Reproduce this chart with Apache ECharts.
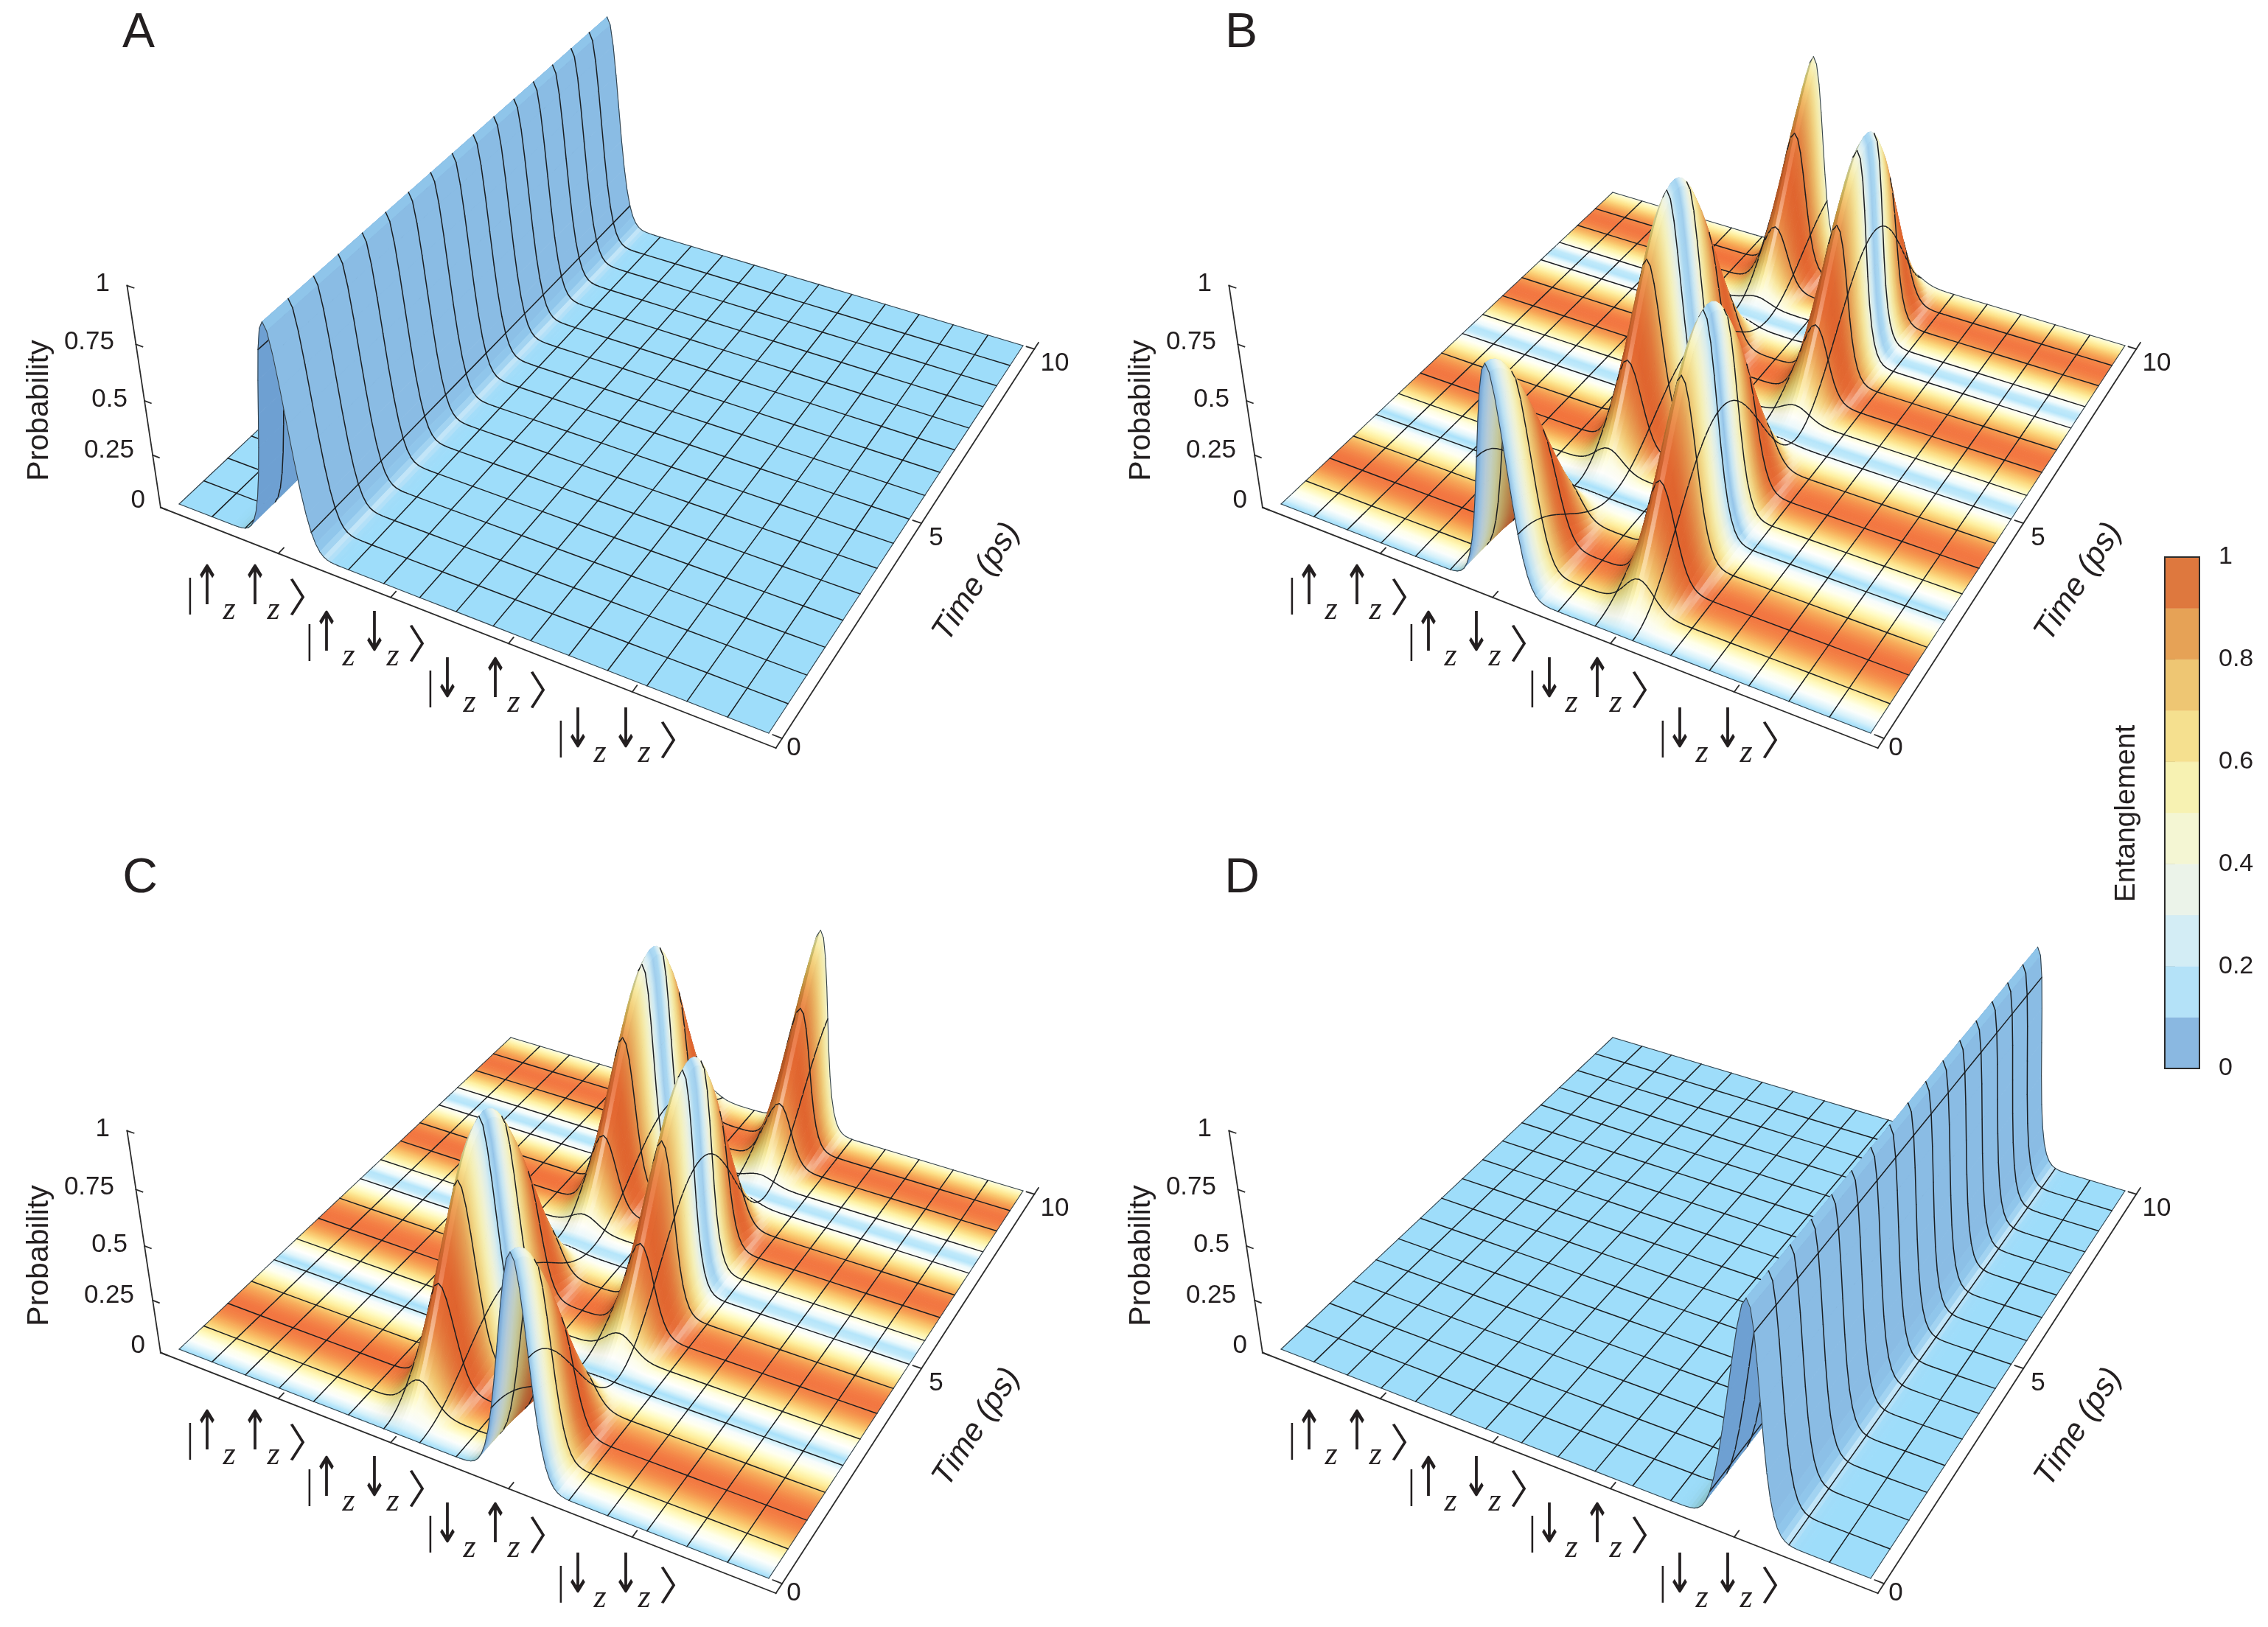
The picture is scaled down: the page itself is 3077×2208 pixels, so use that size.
<!DOCTYPE html>
<html><head><meta charset="utf-8">
<style>html,body{margin:0;padding:0;background:#fff}#c{width:3077px;height:2208px}</style>
<script src="https://cdn.jsdelivr.net/npm/echarts@6/dist/echarts.min.js"></script>
</head><body><div id="c"></div>
<script>
// ---------- DATA ----------
const stateLabels = [['↑','↑'],['↑','↓'],['↓','↑'],['↓','↓']];
const zTicks = [0,0.25,0.5,0.75,1];
const zTickLabels = ['0','0.25','0.5','0.75','1'];
const timeTicks = [0,5,10];
const timeTickLabels = ['0','5','10'];
const stateTicks = [1,2,3,4];

const meshTimes = [0,0.625,1.25,1.875,2.5,3.125,3.75,4.375,5,5.625,6.25,6.875,7.5,8.125,8.75,9.375,10];
const probA_uu  = [1,1,1,1,1,1,1,1,1,1,1,1,1,1,1,1,1];
const entA      = [0,0,0,0,0,0,0,0,0,0,0,0,0,0,0,0,0];
const probD_dd  = [1,1,1,1,1,1,1,1,1,1,1,1,1,1,1,1,1];
const entD      = [0,0,0,0,0,0,0,0,0,0,0,0,0,0,0,0,0];

const fineTimes = [0,0.125,0.25,0.375,0.5,0.625,0.75,0.875,1,1.125,1.25,1.375,1.5,1.625,1.75,1.875,2,2.125,2.25,2.375,2.5,2.625,2.75,2.875,3,3.125,3.25,3.375,3.5,3.625,3.75,3.875,4,4.125,4.25,4.375,4.5,4.625,4.75,4.875,5,5.125,5.25,5.375,5.5,5.625,5.75,5.875,6,6.125,6.25,6.375,6.5,6.625,6.75,6.875,7,7.125,7.25,7.375,7.5,7.625,7.75,7.875,8,8.125,8.25,8.375,8.5,8.625,8.75,8.875,9,9.125,9.25,9.375,9.5,9.625,9.75,9.875,10];
const probB_ud = [1,.994,.977,.95,.912,.864,.809,.746,.677,.605,.53,.455,.38,.309,.241,.18,.126,.08,.044,.018,.004,0,.008,.027,.057,.097,.146,.204,.268,.337,.41,.485,.56,.634,.705,.771,.832,.884,.928,.962,.985,.998,.999,.989,.968,.936,.894,.843,.784,.719,.649,.575,.5,.425,.351,.281,.216,.157,.107,.065,.033,.011,.001,.002,.015,.038,.072,.116,.168,.229,.295,.366,.44,.515,.59,.663,.732,.796,.854,.903,.943];
const probB_du = [0,.006,.023,.05,.088,.136,.191,.254,.323,.395,.47,.545,.62,.691,.759,.82,.874,.92,.956,.982,.996,1,.992,.973,.943,.903,.854,.796,.732,.663,.59,.515,.44,.366,.295,.229,.168,.116,.072,.038,.015,.002,.001,.011,.032,.064,.106,.157,.216,.281,.351,.425,.5,.575,.649,.719,.784,.843,.893,.935,.967,.989,.999,.998,.985,.962,.928,.884,.832,.771,.705,.634,.56,.485,.41,.337,.268,.204,.146,.097,.057];
const entB = [0,.15,.3,.44,.57,.69,.79,.87,.94,.98,1,1,.97,.92,.86,.77,.66,.54,.41,.27,.12,.03,.18,.33,.46,.59,.71,.81,.89,.95,.98,1,.99,.96,.91,.84,.75,.64,.52,.38,.24,.09,.06,.21,.35,.49,.62,.73,.82,.9,.95,.99,1,.99,.95,.9,.82,.73,.62,.49,.35,.21,.06,.09,.24,.38,.52,.64,.75,.84,.91,.96,.99,1,.98,.95,.89,.81,.71,.59,.46];
const probC_du = probB_ud, probC_ud = probB_du, entC = entB;

// cross-section of one ridge: offset from the state position, in steps of 1/32
const ridgeShape = [.0002,.0005,.0013,.0032,.0076,.0165,.0337,.0641,.1142,.1898,.295,.4284,.5813,.737,.8732,.9667,1,.9667,.8732,.737,.5813,.4284,.295,.1898,.1142,.0641,.0337,.0165,.0076,.0032,.0013,.0005,.0002];

const entBarColors = ['#8ab8e1','#b4e2f8','#d3edf5','#ebf3e9','#f4f6d3','#f7f2b2','#f5e08f','#eec673','#e6a256','#de783e'];
const entBarEdges  = [0,.1,.2,.3,.4,.5,.6,.7,.8,.9,1];

// ---------- colours of the lit surface ----------
const floorStops = [[156,220,250],[198,236,250],[240,250,252],[255,255,252],[255,255,232],[255,250,190],[254,236,150],[250,205,110],[246,160,80],[242,115,60]];
const faceStops  = [[138,188,228],[178,222,245],[208,234,243],[232,240,230],[242,243,208],[245,238,175],[243,220,140],[236,192,108],[228,150,78],[224,100,46]];
function stopColor(S,E){
  const p=Math.min(.9999,Math.max(0,E))*9,i=Math.floor(p),f=p-i,a=S[i],b=S[i+1];
  return [a[0]+(b[0]-a[0])*f,a[1]+(b[1]-a[1])*f,a[2]+(b[2]-a[2])*f];
}
function shade(E,g,under){
  const fl=stopColor(floorStops,E),fa=stopColor(faceStops,E);
  let r,gg,b;
  if(under){r=fa[0]*.8;gg=fa[1]*.85;b=fa[2]*.92;}
  else{
    const q=g/(1+Math.abs(g));
    if(q<=0){const f=Math.min(1,-q/.7);
      r=fl[0]+(fa[0]-fl[0])*f;gg=fl[1]+(fa[1]-fl[1])*f;b=fl[2]+(fa[2]-fl[2])*f;
      const w=.42*Math.exp(-Math.pow((-q-.22)/.13,2));
      r+=(255-r)*w;gg+=(255-gg)*w;b+=(255-b)*w;
    }else{const f=q;
      r=fl[0]*(1-.42*f);gg=fl[1]*(1-.42*f);b=fl[2]*(1-.65*f);
    }
  }
  return 'rgb('+Math.round(r)+','+Math.round(gg)+','+Math.round(b)+')';
}

// ---------- projection (floor corners and known peak tops, panel A frame) ----------
function solve(A,b){const n=b.length,M=A.map((r,i)=>r.concat(b[i]));
  for(let i=0;i<n;i++){let p=i;for(let k=i+1;k<n;k++)if(Math.abs(M[k][i])>Math.abs(M[p][i]))p=k;
    [M[i],M[p]]=[M[p],M[i]];
    for(let k=0;k<n;k++)if(k!==i){const f=M[k][i]/M[i][i];for(let c=i;c<=n;c++)M[k][c]-=f*M[i][c];}}
  return M.map((r,i)=>r[n]/r[i]);}
const floorPts=[[0,0,243,684],[5,0,1043,995],[5,10,1388,469],[0,10,693,261]];
const A8=[],b8=[];
floorPts.forEach(([x,t,u,v])=>{A8.push([x,t,1,0,0,0,-u*x,-u*t]);b8.push(u);A8.push([0,0,0,x,t,1,-v*x,-v*t]);b8.push(v);});
const H=solve(A8,b8);
const topPts=[[-.1,-.2,168.8,389],[1,0,355,439],[1,10,821,25],[2,0,518,491],[2,5.2,780,242],[3,2.6,825,410],[3,7.8,1036,179],[3,0,687,549],[2,2.6,660,362],[3,5.2,938,292],[2,7.8,890,140],[4,0,865,618],[4,10,1265,143]];
const N=[[0,0,0],[0,0,0],[0,0,0]],R=[0,0,0];
function addEq(a,y){for(let i=0;i<3;i++){for(let j=0;j<3;j++)N[i][j]+=a[i]*a[j];R[i]+=a[i]*y;}}
topPts.forEach(([x,t,u,v])=>{const w=H[6]*x+H[7]*t+1;
  addEq([1,0,-u],u*w-(H[0]*x+H[1]*t+H[2]));addEq([0,1,-v],v*w-(H[3]*x+H[4]*t+H[5]));});
const C=solve(N,R);
function project(x,t,z,off){const w=H[6]*x+H[7]*t+C[2]*z+1;
  return [(H[0]*x+H[1]*t+C[0]*z+H[2])/w+off[0],(H[3]*x+H[4]*t+C[1]*z+H[5])/w+off[1]];}

// ---------- panels ----------
const panels=[
 {letter:'A',off:[0,0],     lx:188, times:meshTimes,ent:entA,probs:{1:probA_uu}},
 {letter:'B',off:[1495,0],  lx:1684,times:fineTimes,ent:entB,probs:{2:probB_ud,3:probB_du}},
 {letter:'C',off:[0,1147],  lx:190, times:fineTimes,ent:entC,probs:{2:probC_ud,3:probC_du}},
 {letter:'D',off:[1495,1147],lx:1685,times:meshTimes,ent:entD,probs:{4:probD_dd}}
];
const STEP=1/32, MESHX=10; // mesh lines every 10 steps in x (16 cells)
const MESHT=.625;
function buildPanel(p){
  const keys=new Set();
  for(let k=0;k<=160;k+=MESHX)keys.add(k);
  Object.keys(p.probs).forEach(s=>{for(let m=-16;m<=16;m++)keys.add(+s*32+m);});
  const xs=[...keys].sort((a,b)=>a-b);
  const P=(ix,j)=>{let v=0;const kk=xs[ix];for(const s in p.probs){const m=kk-(+s)*32;if(m>=-16&&m<=16)v+=p.probs[s][j]*ridgeShape[m+16];}return v;};
  const nx=xs.length,nt=p.times.length;
  const isMeshT=j=>Math.abs(p.times[j]/MESHT-Math.round(p.times[j]/MESHT))<1e-6;
  const cells=[];
  for(let j=nt-2;j>=0;j--)for(let i=0;i<nx-1;i++){
    const x0=xs[i]*STEP,x1=xs[i+1]*STEP,t0=p.times[j],t1=p.times[j+1];
    const z00=P(i,j),z10=P(i+1,j),z01=P(i,j+1),z11=P(i+1,j+1);
    const a=project(x0,t0,z00,p.off),b=project(x1,t0,z10,p.off),c=project(x1,t1,z11,p.off),d=project(x0,t1,z01,p.off);
    const area=(b[0]-a[0])*(c[1]-a[1])-(b[1]-a[1])*(c[0]-a[0])+(c[0]-a[0])*(d[1]-a[1])-(c[1]-a[1])*(d[0]-a[0]);
    const under=area>0;
    const g0=(z10-z00)/(x1-x0),g1=(z11-z01)/(x1-x0);
    const lines=[];
    if(xs[i]%MESHX===0)lines.push([a,d,xs[i]===0||xs[i]===160]);
    if(isMeshT(j+1))lines.push([d,c,j+1===nt-1]);
    if(j===0)lines.push([a,b,true]);
    if(i===nx-2)lines.push([b,c,true]);
    cells.push({pts:[a,b,c,d],nearC:shade(p.ent[j],g0,under),farC:shade(p.ent[j+1],g1,under),lines});
  }
  return cells;
}
function surfaceSeries(p){
  const cells=buildPanel(p);
  return {type:'custom',coordinateSystem:'cartesian2d',xAxisIndex:0,yAxisIndex:0,silent:true,clip:false,animation:false,progressive:0,
    z:5,data:cells.map((c,i)=>i),
    renderItem(params,api){
      const c=cells[params.dataIndex];
      const s=c.pts.map(q=>api.coord(q));
      let grad=c.nearC;
      if(c.nearC!==c.farC){
        // colour runs across the row: its bands stay parallel to the row's own edges
        const m0=[(s[0][0]+s[1][0])/2,(s[0][1]+s[1][1])/2],m1=[(s[2][0]+s[3][0])/2,(s[2][1]+s[3][1])/2];
        const ex=(s[1][0]-s[0][0])+(s[2][0]-s[3][0]),ey=(s[1][1]-s[0][1])+(s[2][1]-s[3][1]),el=Math.hypot(ex,ey)||1;
        const nxv=-ey/el,nyv=ex/el,len=(m1[0]-m0[0])*nxv+(m1[1]-m0[1])*nyv;
        const ax=Math.abs(len)>.4?nxv*len:m1[0]-m0[0],ay=Math.abs(len)>.4?nyv*len:m1[1]-m0[1];
        grad=new echarts.graphic.LinearGradient(m0[0],m0[1],m0[0]+ax,m0[1]+ay,[{offset:0,color:c.nearC},{offset:1,color:c.farC}],true);
      }
      const poly={type:'polygon',shape:{points:s},style:{fill:grad,stroke:grad,lineWidth:.9}};
      if(!c.lines.length)return poly;
      const kids=[poly];
      c.lines.forEach(l=>{const u=api.coord(l[0]),v=api.coord(l[1]);
        kids.push({type:'line',shape:{x1:u[0],y1:u[1],x2:v[0],y2:v[1]},style:{stroke:l[2]?'#33414a':'#1a1d20',lineWidth:l[2]?1.1:1.5,lineCap:'round'}});});
      return {type:'group',children:kids};
    }};
}
// axis frame of a panel
const xLo=-.1,xHi=5.1,tLo=-.2,tHi=10.2;
function axisSegments(p){const o=p.off,seg=[];
  const add=(a,b)=>seg.push([project(a[0],a[1],a[2],o),project(b[0],b[1],b[2],o)]);
  add([xLo,tLo,0],[xLo,tLo,1]);add([xLo,tLo,0],[xHi,tLo,0]);add([xHi,tLo,0],[xHi,tHi,0]);
  zTicks.forEach(z=>add([xLo,tLo,z],[xLo+.06,tLo,z]));
  stateTicks.forEach(s=>add([s,tLo,0],[s,tLo+.14,0]));
  timeTicks.forEach(t=>add([xHi,t,0],[xHi-.07,t,0]));
  return seg;}
const allSegs=panels.flatMap(axisSegments);
const axisSeries={type:'custom',coordinateSystem:'cartesian2d',xAxisIndex:0,yAxisIndex:0,silent:true,clip:false,animation:false,z:2,
  data:allSegs.map((s,i)=>i),
  renderItem(params,api){const s=allSegs[params.dataIndex],u=api.coord(s[0]),v=api.coord(s[1]);
    return {type:'line',shape:{x1:u[0],y1:u[1],x2:v[0],y2:v[1]},style:{stroke:'#2b2b2b',lineWidth:1.8,lineCap:'square'}};}};
// colour bar
const barData=entBarColors.map((c,i)=>[entBarEdges[i],entBarEdges[i+1]]);
const barSeries={type:'custom',coordinateSystem:'cartesian2d',xAxisIndex:1,yAxisIndex:1,silent:true,animation:false,z:3,clip:false,
  data:barData,
  renderItem(params,api){const a=api.coord([0,api.value(0)]),b=api.coord([1,api.value(1)]);
    return {type:'rect',shape:{x:a[0],y:b[1],width:b[0]-a[0],height:a[1]-b[1]},style:{fill:entBarColors[params.dataIndex],stroke:entBarColors[params.dataIndex],lineWidth:.5}};}};

// ---------- text ----------
const SANS='"Liberation Sans",Arial,sans-serif';
const els=[];
function txt(s,x,y,size,o){o=o||{};
  els.push({type:'text',x,y,rotation:o.rot||0,scaleX:o.sx||1,scaleY:o.sy||1,z:50,silent:true,style:{text:s,fill:o.fill||'#231f20',
    font:(o.style?o.style+' ':'')+size+'px '+(o.family||SANS),align:o.align||'center',verticalAlign:'middle'}});}
const zLabelPos=[[197,679],[182,611],[173,542],[155,464],[149,385]];
const tLabelPos=[[1077,1015],[1270,730],[1431,493]];
const ketOrigin=[[258,786],[420,849],[584,912],[761,980]];
panels.forEach(p=>{const o=p.off;
  txt(p.letter,p.lx,o[1]+46,66);
  zTickLabels.forEach((s,i)=>txt(s,zLabelPos[i][0]+o[0],zLabelPos[i][1]+o[1],35,{align:'right'}));
  timeTickLabels.forEach((s,i)=>txt(s,tLabelPos[i][0]+o[0],tLabelPos[i][1]+o[1],35));
  txt('Probability',54+o[0],557+o[1],41,{rot:Math.PI/2});
  txt('Time (ps)',1325+o[0],790+o[1],43,{rot:57*Math.PI/180,style:'italic'});
  stateLabels.forEach((st,i)=>{const kx=ketOrigin[i][0]+o[0],ky=ketOrigin[i][1]+o[1];
    txt('|',kx,ky+22,53,{family:'"Liberation Sans"',sx:.6});
    txt(st[0],kx+23,ky+15,74,{family:'"DejaVu Sans"',sx:.62});
    txt('z',kx+53,ky+42,44,{family:'"Liberation Serif"',style:'italic'});
    txt(st[1],kx+88,ky+15,74,{family:'"DejaVu Sans"',sx:.62});
    txt('z',kx+113,ky+42,44,{family:'"Liberation Serif"',style:'italic'});
    txt('〉',kx+160,ky+24,54,{family:'"Noto Sans CJK JP"'});
  });
});
txt('Entanglement',2885,1104,39,{rot:Math.PI/2});

const chart=echarts.init(document.getElementById('c'),null,{renderer:'canvas',width:3077,height:2208});
chart.setOption({animation:false,backgroundColor:'#fff',
  grid:[{left:0,top:0,width:3077,height:2208},{left:2937,top:756,width:47,height:694,show:true,borderColor:'#2b2b2b',borderWidth:2,z:10}],
  xAxis:[{gridIndex:0,type:'value',min:0,max:3077,show:false},{gridIndex:1,type:'value',min:0,max:1,show:false}],
  yAxis:[{gridIndex:0,type:'value',min:0,max:2208,inverse:true,show:false},
    {gridIndex:1,type:'value',min:0,max:1,interval:.2,position:'right',
     axisLine:{show:true,lineStyle:{color:'#2b2b2b',width:2}},axisTick:{show:true,length:14,lineStyle:{color:'#2b2b2b',width:2}},splitLine:{show:false},
     axisLabel:{fontSize:34,color:'#231f20',fontFamily:'Liberation Sans',margin:26,formatter:v=>String(+v.toFixed(1))}}],
  graphic:{elements:els},
  series:[axisSeries].concat(panels.map(surfaceSeries),[barSeries])
});
if(probB_ud.length!==81||probB_du.length!==81||entB.length!==81||fineTimes.length!==81)throw new Error('length');
</script></body></html>
